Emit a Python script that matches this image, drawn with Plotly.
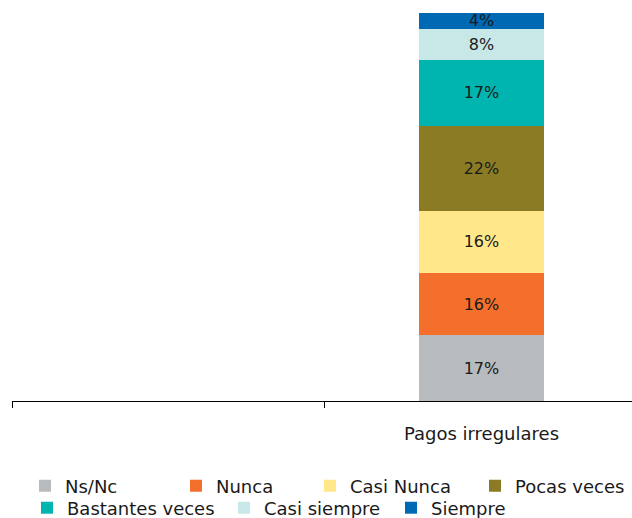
import plotly.graph_objects as go

categories = [" ", "Pagos irregulares"]
series_names = ["Ns/Nc", "Nunca", "Casi Nunca", "Pocas veces", "Bastantes veces", "Casi siempre", "Siempre"]
series_values = [17, 16, 16, 22, 17, 8, 4]
colors = ["#B7BBBE", "#F36F2B", "#FFE78A", "#8B7B25", "#00B5B0", "#C8E8E8", "#0069B4"]

FONT = "DejaVu Sans, Century Gothic, sans-serif"

# plot area in pixels (for placing the legend entries like the original flow layout)
PL, PR, PT, PB = 12, 632, 13, 401
legend_text_px = [(65, 486), (216, 486), (350, 486), (515, 486),
                  (67, 508), (264, 508), (431, 508)]
TEXT_OFFSET = 40

fig = go.Figure()
legend_layouts = {}
for i, (name, val, col) in enumerate(zip(series_names, series_values, colors)):
    lname = "legend" if i == 0 else f"legend{i+1}"
    fig.add_trace(go.Bar(
        x=[categories[1]], y=[val], name=name,
        marker=dict(color=col, line=dict(width=0)),
        text=[f"{val}%"], textposition="inside", insidetextanchor="middle",
        constraintext="none",
        textfont=dict(family=FONT, size=16, color="#1a1a1a"),
        hoverinfo="skip", legend=lname,
    ))
    tx, ty = legend_text_px[i]
    legend_layouts[lname] = dict(
        orientation="h", xanchor="left", yanchor="middle",
        x=(tx - TEXT_OFFSET - PL) / (PR - PL),
        y=(PB - ty) / (PB - PT),
        font=dict(family=FONT, size=18, color="#1a1a1a"),
        bgcolor="rgba(0,0,0,0)", borderwidth=0,
    )

fig.update_layout(
    barmode="stack",
    bargap=0.6,
    width=632, height=518,
    margin=dict(l=PL, r=632 - PR, t=PT, b=518 - PB, autoexpand=False),
    paper_bgcolor="white", plot_bgcolor="white",
    font=dict(family=FONT, size=16, color="#1a1a1a"),
    showlegend=True,
    xaxis=dict(type="category", categoryorder="array", categoryarray=categories,
               range=[-0.5, 1.481], showline=True, linecolor="#000000", linewidth=1,
               ticks="outside", tickson="boundaries", ticklen=6, tickcolor="#000000",
               ticklabelstandoff=16,
               showgrid=False, zeroline=False,
               tickfont=dict(family=FONT, size=18, color="#1a1a1a")),
    yaxis=dict(range=[0, 100], visible=False, showgrid=False, zeroline=False),
    **legend_layouts,
)

fig.write_html("out.html", config={"displayModeBar": False},
               post_script="document.body.style.margin='0';document.body.style.overflow='hidden';")
